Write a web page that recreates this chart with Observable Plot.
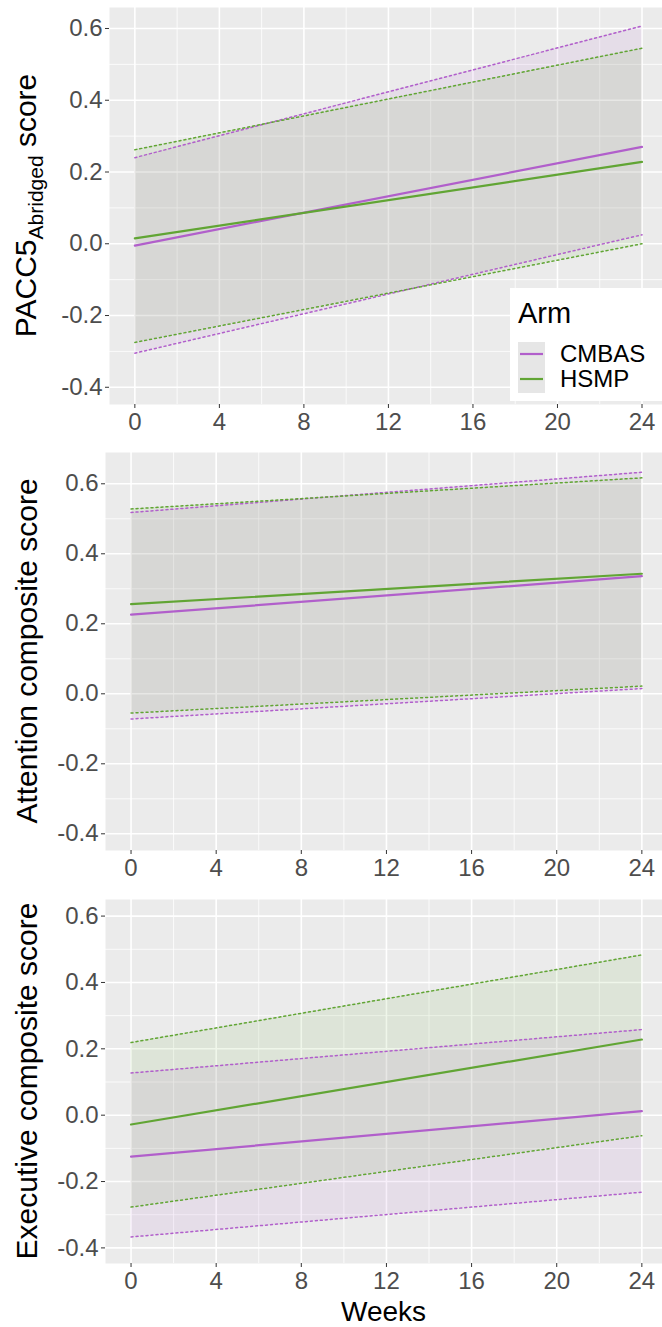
<!DOCTYPE html>
<html><head><meta charset="utf-8">
<script src="https://cdn.jsdelivr.net/npm/d3@7"></script>
<script src="https://cdn.jsdelivr.net/npm/@observablehq/plot@0.6"></script>
<style>
body{margin:0;background:#fff;font-family:"Liberation Sans",Arial,sans-serif;}
#wrap{position:relative;width:662px;height:1327px;overflow:hidden;}
#wrap svg{display:block}
</style></head><body><div id="wrap"></div>
<script>
// ---- data ----
const weeks = [0, 24];
const arms = ["CMBAS", "HSMP"];
const armColors = ["#b15fcb", "#61a534"];
const xTicks = [0, 4, 8, 12, 16, 20, 24];
const xMinor = [2, 6, 10, 14, 18, 22];
const yTicks = [-0.4, -0.2, 0, 0.2, 0.4, 0.6];
const yMinor = [-0.3, -0.1, 0.1, 0.3, 0.5];

// PACC5 Abridged
const paccCMBASmean = [-0.005, 0.270];
const paccCMBASlo   = [-0.305, 0.025];
const paccCMBAShi   = [0.240, 0.607];
const paccHSMPmean  = [0.015, 0.228];
const paccHSMPlo    = [-0.275, 0.000];
const paccHSMPhi    = [0.262, 0.545];

// Attention composite
const attCMBASmean = [0.226, 0.336];
const attCMBASlo   = [-0.072, 0.015];
const attCMBAShi   = [0.518, 0.633];
const attHSMPmean  = [0.256, 0.343];
const attHSMPlo    = [-0.055, 0.022];
const attHSMPhi    = [0.528, 0.617];

// Executive composite
const exeCMBASmean = [-0.125, 0.012];
const exeCMBASlo   = [-0.367, -0.232];
const exeCMBAShi   = [0.127, 0.258];
const exeHSMPmean  = [-0.028, 0.228];
const exeHSMPlo    = [-0.277, -0.062];
const exeHSMPhi    = [0.219, 0.483];

function rows(cm, cl, ch, hm, hl, hh) {
  const out = [];
  weeks.forEach((w, i) => out.push({arm: "CMBAS", week: w, mean: cm[i], lo: cl[i], hi: ch[i]}));
  weeks.forEach((w, i) => out.push({arm: "HSMP", week: w, mean: hm[i], lo: hl[i], hi: hh[i]}));
  return out;
}

const panels = [
  {data: rows(paccCMBASmean, paccCMBASlo, paccCMBAShi, paccHSMPmean, paccHSMPlo, paccHSMPhi),
   height: 440, marginTop: 7, marginBottom: 36, marginLeft: 109, yDomain: [-0.448, 0.6585],
   title: ["PACC5", "Abridged", " score"], titleX: 36},
  {data: rows(attCMBASmean, attCMBASlo, attCMBAShi, attHSMPmean, attHSMPlo, attHSMPhi),
   height: 445, marginTop: 12, marginBottom: 35, marginLeft: 105, yDomain: [-0.4477, 0.6894],
   title: ["Attention composite score"], titleX: 37},
  {data: rows(exeCMBASmean, exeCMBASlo, exeCMBAShi, exeHSMPmean, exeHSMPlo, exeHSMPhi),
   height: 442, marginTop: 14, marginBottom: 64, marginLeft: 105, yDomain: [-0.447, 0.650],
   title: ["Executive composite score"], titleX: 37, xLabel: "Weeks"}
];

const wrap = document.getElementById("wrap");
const FONT = "Liberation Sans, Arial, sans-serif";

panels.forEach((p) => {
  const chart = Plot.plot({
    width: 662, height: p.height,
    marginLeft: p.marginLeft, marginRight: 0, marginTop: p.marginTop, marginBottom: p.marginBottom,
    style: {fontFamily: FONT, background: "white", overflow: "hidden"},
    x: {domain: [-1.2, 24.97]},
    y: {domain: p.yDomain},
    color: {domain: arms, range: armColors},
    marks: [
      Plot.frame({fill: "#ebebeb", stroke: null}),
      Plot.ruleY(yMinor, {stroke: "white", strokeWidth: 0.8}),
      Plot.ruleX(xMinor, {stroke: "white", strokeWidth: 0.8}),
      Plot.ruleY(yTicks, {stroke: "white", strokeWidth: 1.6}),
      Plot.ruleX(xTicks, {stroke: "white", strokeWidth: 1.6}),
      Plot.areaY(p.data, {x: "week", y1: "lo", y2: "hi", fill: "arm", fillOpacity: 0.1}),
      Plot.lineY(p.data, {x: "week", y: "hi", stroke: "arm", strokeWidth: 1.5, strokeDasharray: "2,3"}),
      Plot.lineY(p.data, {x: "week", y: "lo", stroke: "arm", strokeWidth: 1.5, strokeDasharray: "2,3"}),
      Plot.lineY(p.data, {x: "week", y: "mean", stroke: "arm", strokeWidth: 2.2}),
      Plot.axisX({ticks: xTicks, tickSize: 4, tickPadding: 4, fontSize: 24, stroke: "#333", fill: "#4d4d4d", label: null}),
      Plot.axisY({ticks: yTicks, tickFormat: d => d.toFixed(1), tickSize: 4, tickPadding: 3, fontSize: 24, stroke: "#333", fill: "#4d4d4d", label: null})
    ]
  });
  const svg = d3.select(chart);
  const cy = (p.marginTop + (p.height - p.marginBottom)) / 2;
  const t = svg.append("text")
    .attr("transform", `translate(${p.titleX},${cy}) rotate(-90)`)
    .attr("text-anchor", "middle")
    .attr("fill", "black")
    .style("font-family", FONT)
    .style("font-size", "30px");
  if (p.title.length === 3) {
    t.append("tspan").text(p.title[0]);
    t.append("tspan").attr("dy", 7).style("font-size", "21px").text(p.title[1]);
    t.append("tspan").attr("dy", -7).text(p.title[2]);
  } else {
    t.text(p.title[0]);
  }
  if (p.xLabel) {
    svg.append("text")
      .attr("x", (p.marginLeft + 662) / 2)
      .attr("y", p.height - 6)
      .attr("text-anchor", "middle")
      .attr("fill", "black")
      .style("font-family", FONT)
      .style("font-size", "28px")
      .text(p.xLabel);
  }
  wrap.appendChild(chart);
});

// legend (inside top panel)
const leg = d3.select(wrap).append("svg")
  .attr("width", 152).attr("height", 113)
  .style("position", "absolute").style("left", "510px").style("top", "288px");
leg.append("rect").attr("width", 152).attr("height", 113).attr("fill", "white");
leg.append("text").attr("x", 8).attr("y", 35).style("font-family", FONT).style("font-size", "29px").attr("fill", "black").text("Arm");
leg.append("rect").attr("x", 8).attr("y", 54).attr("width", 27).attr("height", 51).attr("fill", "#e6e6e6");
arms.forEach((a, i) => {
  const y = 66 + i * 25;
  leg.append("line").attr("x1", 10).attr("x2", 33).attr("y1", y).attr("y2", y)
    .attr("stroke", armColors[i]).attr("stroke-width", 2.2);
  leg.append("text").attr("x", 50).attr("y", y + 8).style("font-family", FONT).style("font-size", "24px").attr("fill", "black").text(a);
});
</script></body></html>
